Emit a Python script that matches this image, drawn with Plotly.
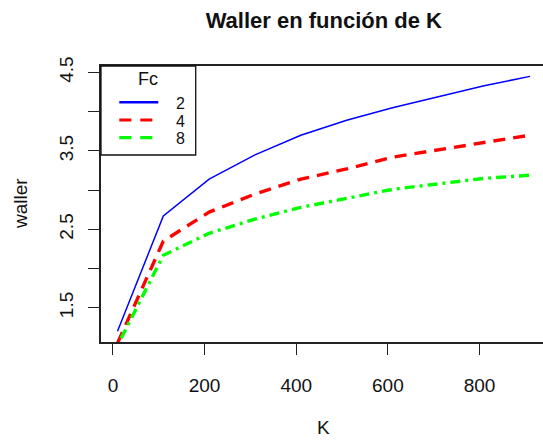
import plotly.graph_objects as go

# Waller statistic as a function of K, for three values of Fc
K = [10, 110, 210, 310, 410, 510, 610, 710, 810, 910]
waller_fc2 = [1.20, 2.67, 3.14, 3.45, 3.70, 3.89, 4.05, 4.19, 4.33, 4.45]
waller_fc4 = [1.05, 2.35, 2.72, 2.95, 3.14, 3.27, 3.42, 3.51, 3.61, 3.70]
waller_fc8 = [1.02, 2.17, 2.45, 2.63, 2.78, 2.90, 3.01, 3.08, 3.15, 3.19]

series_names = ["2", "4", "8"]
series_values = [waller_fc2, waller_fc4, waller_fc8]
series_colors = ["#0000FF", "#FF0000", "#00FF00"]
series_widths = [1.5, 3.4, 3.4]
series_dash = ["solid", "12px,8px", "3px,5px,10px,5px"]
legend_dash = ["solid", "12px,9px", "12px,9px"]

x_ticks = [0, 200, 400, 600, 800]
y_ticks = [1.5, 2.0, 2.5, 3.0, 3.5, 4.0, 4.5]
y_tick_text = ["1.5", "", "2.5", "", "3.5", "", "4.5"]

W, H = 543, 441
M_L, M_R, M_T, M_B = 101, 0, 66, 99
PW, PH = W - M_L - M_R, H - M_T - M_B
FONT = "Liberation Sans, Arial, sans-serif"


def px_x(px):
    return (px - M_L) / PW


def px_y(py):
    return (H - M_B - py) / PH


fig = go.Figure()
for name, vals, col, lw, dash in zip(series_names, series_values, series_colors,
                                     series_widths, series_dash):
    fig.add_trace(go.Scatter(x=K, y=vals, mode="lines", name=name,
                             line=dict(color=col, width=lw, dash=dash),
                             showlegend=False))

axis_common = dict(showgrid=False, zeroline=False, showline=True,
                   linecolor="#222222", linewidth=1.6, ticks="outside",
                   ticklen=11, tickwidth=1.3, tickcolor="#222222",
                   tickfont=dict(family=FONT, size=19, color="#111111"))

fig.update_xaxes(range=[-26, -26 + PW / 0.4583], tickvals=x_ticks,
                 ticktext=[str(v) for v in x_ticks], mirror=True,
                 ticklabelstandoff=14, **axis_common)
fig.update_yaxes(range=[1.064, 4.582], tickvals=y_ticks, ticktext=y_tick_text,
                 tickangle=-90, mirror=False, ticklabelstandoff=8, **axis_common)

# Legend box drawn on the plot
shapes = [dict(type="rect", xref="paper", yref="paper",
               x0=px_x(101), x1=px_x(195.7), y0=px_y(155), y1=px_y(66),
               line=dict(color="#111111", width=1.3), fillcolor="white",
               layer="above")]
annotations = [dict(text="Fc", xref="paper", yref="paper", x=px_x(148.3),
                    y=px_y(79), xanchor="center", yanchor="middle",
                    showarrow=False, font=dict(family=FONT, size=18, color="#111111"))]
row_y = [102.3, 120.0, 137.7]
for name, col, dash, ry in zip(series_names, series_colors, legend_dash, row_y):
    shapes.append(dict(type="line", xref="paper", yref="paper",
                       x0=px_x(119.3), x1=px_x(158.3), y0=px_y(ry), y1=px_y(ry),
                       line=dict(color=col, width=2.4 if dash == "solid" else 3.2,
                                 dash=dash), layer="above"))
    annotations.append(dict(text=name, xref="paper", yref="paper", x=px_x(180.3),
                            y=px_y(ry + 1.0), xanchor="center", yanchor="middle",
                            showarrow=False,
                            font=dict(family=FONT, size=16, color="#111111")))

# Axis titles
annotations.append(dict(text="K", xref="paper", yref="paper", x=px_x(323.8),
                        y=px_y(427), xanchor="center", yanchor="middle",
                        showarrow=False, font=dict(family=FONT, size=19, color="#111111")))
annotations.append(dict(text="waller", xref="paper", yref="paper", x=px_x(20),
                        y=px_y(204), xanchor="center", yanchor="middle",
                        textangle=-90, showarrow=False,
                        font=dict(family=FONT, size=19, color="#111111")))

fig.update_layout(
    width=W, height=H,
    margin=dict(l=M_L, r=M_R, t=M_T, b=M_B),
    paper_bgcolor="white", plot_bgcolor="white",
    title=dict(text="<b>Waller en función de K</b>", x=px_x(323.8), xref="paper",
               y=1 - 20 / H, yref="container", xanchor="center", yanchor="middle",
               font=dict(family=FONT, size=22, color="#111111")),
    shapes=shapes, annotations=annotations, showlegend=False,
)

fig.write_html("out.html")
